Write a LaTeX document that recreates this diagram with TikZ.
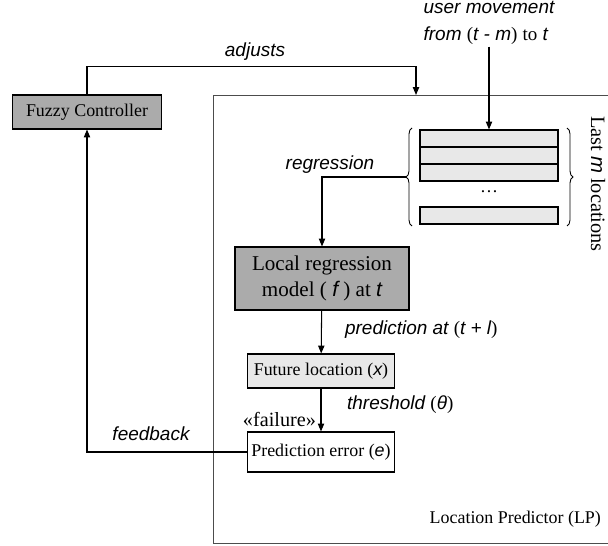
\documentclass[tikz,border=0pt]{standalone}
\usepackage{fontspec}
\setmainfont{Liberation Serif}
\setsansfont{Liberation Sans}
\usetikzlibrary{arrows.meta,positioning,decorations.pathreplacing}

\newcommand{\vi}[1]{{\sffamily\itshape #1}}
\newcommand{\up}[1]{{\rmfamily\upshape #1}}

\begin{document}
\begin{tikzpicture}[
    x=0.02cm, y=-0.02cm,
    >={Triangle[length=4.5pt,width=3.6pt]},
    arr/.style={->, line width=0.6pt},
    box/.style={draw, line width=0.6pt, inner sep=2pt, font=\fontsize{10.2}{12}\selectfont},
    row/.style={draw, line width=0.6pt, fill=black!9, minimum width=2.76cm, minimum height=0.34cm, inner sep=0pt},
    lbl/.style={font=\fontsize{10.8}{15.2}\selectfont\sffamily\itshape, inner sep=1pt},
    txt/.style={font=\fontsize{10.2}{12}\selectfont, inner sep=1pt}
]
\clip (0,0) rectangle (608,546);

% the predictor frame
\node[draw=black!70, line width=0.6pt, minimum width=7.98cm, minimum height=8.98cm] (lp) at (412.5,319.5) {};
\node[txt, anchor=east] (lpname) at (603,519) {Location Predictor (LP)};

% boxes
\node[box, fill=black!33, minimum width=2.98cm, minimum height=0.68cm] (fc) at (87,112) {Fuzzy Controller};
\node[box, fill=black!33, minimum width=3.48cm, minimum height=1.26cm, align=center,
      font=\fontsize{12}{14.6}\selectfont] (lr) at (322,278.5) {Local regression\\model ( \vi{f} ) at \vi{t}};
\node[box, fill=black!9, minimum width=2.94cm, minimum height=0.68cm] (fl) at (321,371) {Future location (\vi{x})};
\node[box, minimum width=2.92cm, minimum height=0.8cm] (pe) at (321,452) {Prediction error (\vi{e})};

% last m locations
\node[row] (s1) at (489,138.5) {};
\node[row] (s2) at (489,155.5) {};
\node[row] (s3) at (489,172.5) {};
\node[txt] (dots) at (489,192) {\dots};
\node[row] (s4) at (489,215.5) {};
\draw[decorate, decoration={brace, amplitude=0.12cm}, line width=0.5pt] (412,226) -- (412,128);
\draw[decorate, decoration={brace, amplitude=0.12cm}, line width=0.5pt] (567,128) -- (567,226);
\coordinate (lbtip) at (406,177);
\node[txt, rotate=-90, font=\fontsize{11.6}{13}\selectfont] (lastm) at (598,184) {Last \vi{m} locations};

% labels
\node[lbl, align=left] (um) at (489,23) {user movement\\from \up{(}t - m\up{)} \up{to} t};
\node[lbl] (adjlbl) at (255,52) {adjusts};
\node[lbl] (reglbl) at (330,165) {regression};
\node[lbl, anchor=west] (predlbl) at (343,330) {prediction at \up{(}t + l\up{)}};
\node[lbl, anchor=west] (thrlbl) at (345,405) {threshold \up{(}θ\up{)}};
\node[txt, anchor=east, font=\fontsize{11.5}{13}\selectfont] (faillbl) at (318,419) {«failure»};
\node[lbl] (fblbl) at (151,434) {feedback};

% connectors
\coordinate (adj) at (416,95);
\draw[arr] (fc.north) -- ++(0,-28) -| (adj);
\draw[arr] (um.south) -- (s1.north);
\draw[arr] (lbtip) -| (lr.north);
\draw[arr] (lr) -- (fl);
\draw[arr] (fl) -- (pe);
\draw[arr] (pe.west) -| (fc.south);
\end{tikzpicture}
\end{document}
